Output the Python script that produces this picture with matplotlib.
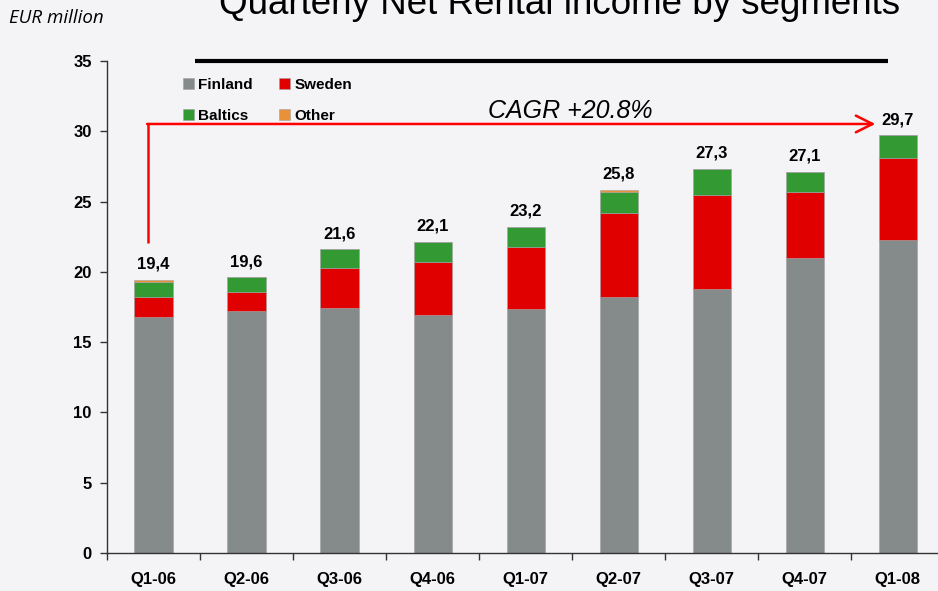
import matplotlib.pyplot as plt
import numpy as np

# data (EUR million)
quarters = ["Q1-06", "Q2-06", "Q3-06", "Q4-06", "Q1-07", "Q2-07", "Q3-07", "Q4-07", "Q1-08"]
finland = [16.8, 17.2, 17.45, 16.9, 17.35, 18.2, 18.8, 21.0, 22.3]
sweden = [1.4, 1.35, 2.85, 3.8, 4.45, 6.0, 6.65, 4.65, 5.8]
baltics = [1.05, 1.05, 1.3, 1.4, 1.4, 1.45, 1.85, 1.45, 1.6]
other = [0.15, 0.0, 0.0, 0.0, 0.0, 0.15, 0.0, 0.0, 0.0]
totals = ["19,4", "19,6", "21,6", "22,1", "23,2", "25,8", "27,3", "27,1", "29,7"]
total_vals = [19.4, 19.6, 21.6, 22.1, 23.2, 25.8, 27.3, 27.1, 29.7]

segments = [("Finland", finland, "#858b8b"),
            ("Sweden", sweden, "#e00000"),
            ("Baltics", baltics, "#339933"),
            ("Other", other, "#e8913a")]

plt.rcParams['font.family'] = ['Liberation Sans', 'DejaVu Sans']

fig = plt.figure(figsize=(9.38, 5.91), dpi=100, facecolor="#f4f4f7")
ax = fig.add_axes([0.1141, 0.0643, 0.886, 0.8325])
ax.set_facecolor("none")

x = np.arange(len(quarters))
bottom = np.zeros(len(quarters))
handles = {}
for name, vals, col in segments:
    handles[name] = ax.bar(x, vals, 0.41, bottom=bottom, color=col, label=name,
                           edgecolor="#a0a0a0", linewidth=0.4)
    bottom += np.array(vals)

# total labels above bars
for xi, v, lab in zip(x, total_vals, totals):
    ax.annotate(lab, (xi, v), xytext=(0, 6), textcoords="offset points",
                ha="center", va="bottom", fontsize=12, fontweight="bold")

ax.set_xlim(-0.5, 8.435)
ax.set_ylim(0, 35)
ax.set_yticks(range(0, 36, 5))
ax.tick_params(axis="y", length=5, width=1, color="#333333", labelsize=12, pad=6)
for t in ax.get_yticklabels():
    t.set_fontweight("bold")

# labels at bar centres, tick marks at category boundaries
ax.set_xticks(x)
ax.set_xticklabels(quarters, fontsize=12, fontweight="bold")
ax.tick_params(axis="x", which="major", length=0, pad=14)
ax.set_xticks(np.arange(-0.5, 8.5, 1), minor=True)
ax.tick_params(axis="x", which="minor", length=5, width=1, color="#333333")

for s in ["top", "right"]:
    ax.spines[s].set_visible(False)
for s in ["left", "bottom"]:
    ax.spines[s].set_color("#333333")
    ax.spines[s].set_linewidth(1)

# legend rows: Finland/Sweden, Baltics/Other (columns fill first)
order = ["Finland", "Baltics", "Sweden", "Other"]
ax.legend([handles[n] for n in order], order, loc="upper left",
          bbox_to_anchor=(0.075, 0.993), ncol=2, frameon=False,
          handlelength=0.7, handleheight=0.7, handletextpad=0.3,
          columnspacing=1.7, labelspacing=1.1,
          prop={"weight": "bold", "size": 11})

# black rule under the title
ax.plot([0.106, 0.94], [1.0, 1.0], transform=ax.transAxes, color="black",
        lw=3, clip_on=False, solid_capstyle="butt")

# CAGR arrow
x0, y0, y1, tip = -0.059, 22.05, 30.52, 7.76
ax.plot([x0, x0], [y0, y1], color="#ff0000", lw=1.8, solid_capstyle="butt")
ax.annotate("", xy=(tip, y1), xytext=(x0 - 0.01, y1),
            arrowprops=dict(arrowstyle="->", color="#ff0000", lw=1.8,
                            mutation_scale=30, shrinkA=0, shrinkB=0))
ax.text(4.48, 30.95, "CAGR +20.8%", fontsize=18, style="italic",
        ha="center", va="baseline")

fig.text(0.597, 0.993, "Quarterly Net Rental income by segments", fontsize=26.5,
         ha="center", va="center")
fig.text(0.01, 0.97, "EUR million", fontsize=13.5, style="italic",
         family=["Open Sans", "DejaVu Sans"], ha="left", va="center")

fig.savefig("out.png", dpi=100, facecolor=fig.get_facecolor())
